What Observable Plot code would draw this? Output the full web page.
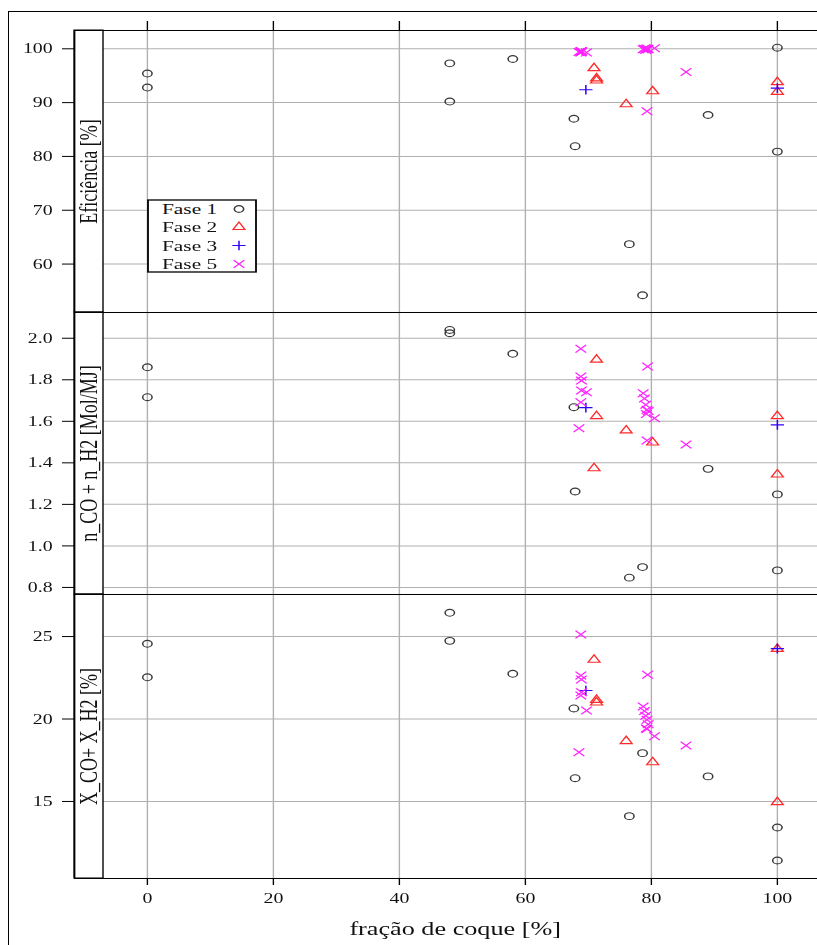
<!DOCTYPE html>
<html>
<head>
<meta charset="utf-8">
<script src="https://cdn.jsdelivr.net/npm/d3@7"></script>
<script src="https://cdn.jsdelivr.net/npm/@observablehq/plot@0.6"></script>
<style>
  html, body { margin: 0; padding: 0; background: #fff; overflow: hidden; }
  #page { position: relative; width: 817px; height: 945px; overflow: hidden; background: #fff; }
  #outer { position: absolute; left: 8px; top: 11px; width: 900px; height: 1000px; border: 1px solid #000; box-sizing: border-box; }
  #wrap { position: absolute; left: 0; top: 0; height: 945px; transform-origin: 0 0; }
  #wrap svg { position: absolute; left: 0; top: 0; max-width: none; }
</style>
</head>
<body>
<div id="page">
  <div id="outer"></div>
  <div id="wrap"></div>
</div>
<script>
// ---------- data ----------
const xTicks = [0, 20, 40, 60, 80, 100];
const xTitle = "fração de coque [%]";
const phaseNames = ["Fase 1", "Fase 2", "Fase 3", "Fase 5"];

const fase1X   = [0, 0, 48, 48, 58, 67.7, 67.9, 76.5, 78.6, 89, 100, 100];
const fase1Ef  = [95.4, 92.8, 97.3, 90.2, 98.1, 87.0, 81.9, 63.7, 54.2, 87.7, 100.2, 80.9];
const fase1Mol = [1.86, 1.716, 2.040, 2.024, 1.925, 1.668, 1.262, 0.847, 0.898, 1.371, 1.248, 0.882];
const fase1Xco = [24.56, 22.53, 26.44, 24.74, 22.74, 20.64, 16.41, 14.11, 17.93, 16.52, 13.42, 11.42];

const fase2X   = [70.9, 71.3, 71.3, 76.0, 80.2, 100, 100];
const fase2Ef  = [96.4, 94.5, 94.1, 89.7, 92.1, 93.8, 92.0];
const fase2Mol = [1.374, 1.897, 1.625, 1.556, 1.498, 1.625, 1.344];
const fase2Xco = [23.59, 21.16, 21.0, 18.66, 17.38, 24.25, 14.96];

const fase3X   = [69.6, 100];
const fase3Ef  = [92.4, 92.7];
const fase3Mol = [1.666, 1.583];
const fase3Xco = [21.73, 24.27];

const fase5X   = [68.8, 68.8, 68.9, 68.9, 69.7, 68.8, 68.5, 79.4, 78.7, 78.9, 79.1, 79.3, 79.5, 79.2, 80.5, 79.3, 85.5];
const fase5Ef  = [99.5, 99.3, 99.6, 99.4, 99.3, 99.5, 99.4, 100, 99.9, 100, 99.8, 100, 99.9, 100, 100.1, 88.4, 95.7];
const fase5Mol = [1.949, 1.816, 1.796, 1.748, 1.740, 1.692, 1.567, 1.864, 1.735, 1.71, 1.68, 1.656, 1.65, 1.635, 1.615, 1.508, 1.488];
const fase5Xco = [25.12, 22.64, 22.39, 21.62, 20.52, 21.42, 17.99, 22.68, 20.76, 20.48, 20.2, 19.96, 19.68, 19.43, 18.96, 19.4, 18.39];

const efTicks  = [60, 70, 80, 90, 100];
const molTicks = [0.8, 1.0, 1.2, 1.4, 1.6, 1.8, 2.0];
const xcoTicks = [15, 20, 25];

// ---------- layout / style ----------
const S = 1.38;                 // horizontal stretch of the original raster
const RIGHT = 835;              // panel right edge (outside the visible page)
const W = RIGHT / S;
const ML = 74 / S;
const stripW = 29 / S;
const H = 945;
const xDomain = [-11.54, (RIGHT - 146.7) / 6.3];
const FONT = "'Liberation Serif', 'Times New Roman', serif";

const styles = [
  {symbol: d3.symbolCircle,    stroke: "#383838", r: 3.4},
  {symbol: d3.symbolTriangle2, stroke: "#ff2a2a", r: 4.1},
  {symbol: d3.symbolPlus,      stroke: "#3300ff", r: 3.2},
  {symbol: d3.symbolTimes,     stroke: "#ff22ff", r: 3.6}
];

const zipXY = (xs, ys) => xs.map((x, i) => ({x, y: ys[i]}));
const phasesX = [fase1X, fase2X, fase3X, fase5X];

document.getElementById("wrap").style.width = W + "px";
document.getElementById("wrap").style.transform = `scaleX(${S})`;

function panel({top, bottom, domain, ticks, fmt, label, ys, first, last}) {
  const stripMark = () => {
    const g = d3.create("svg:g");
    g.append("rect")
      .attr("x", ML).attr("y", top)
      .attr("width", stripW).attr("height", bottom - top)
      .attr("fill", "#fff").attr("stroke", "#000").attr("stroke-width", 1);
    return g.node();
  };
  const legendMark = () => {
    const g = d3.create("svg:g");
    const bx = 148 / S, bw = (256 - 148) / S, by = 200, bh = 72;
    g.append("rect").attr("x", bx).attr("y", by).attr("width", bw).attr("height", bh)
      .attr("fill", "#fff").attr("stroke", "#000").attr("stroke-width", 1.3);
    const rowY = [209, 227, 245.5, 264];
    phaseNames.forEach((name, i) => {
      g.append("text").attr("x", 162 / S).attr("y", rowY[i]).attr("dy", "0.34em")
        .attr("text-anchor", "start")
        .attr("font-family", FONT).attr("font-size", 15.5).attr("fill", "#111").text(name);
      const st = styles[i];
      g.append("path")
        .attr("transform", `translate(${239 / S},${rowY[i]})`)
        .attr("d", d3.symbol(st.symbol, Math.PI * st.r * st.r)())
        .attr("fill", "none").attr("stroke", st.stroke).attr("stroke-width", 1.1);
    });
    return g.node();
  };

  const marks = [
    Plot.gridX(xTicks, {stroke: "#b0b0b0", strokeOpacity: 1, strokeWidth: 1}),
    Plot.gridY(ticks, {stroke: "#b0b0b0", strokeOpacity: 1, strokeWidth: 1}),
    stripMark,
    Plot.text([label], {frameAnchor: "left", dx: stripW / 2, rotate: -90, text: d => d,
      textAnchor: "middle", lineAnchor: "middle", fontSize: 18, fill: "#111"}),
    Plot.frame({stroke: "#000", strokeWidth: 1}),
    Plot.axisY(ticks, {anchor: "left", tickSize: 12 / S, tickPadding: 10 / S, tickFormat: fmt,
      label: null, fontSize: 14.4, stroke: "#000"}),
    ...ys.map((yArr, i) => Plot.dot(zipXY(phasesX[i], yArr), {
      x: "x", y: "y", symbol: styles[i].symbol, r: styles[i].r,
      stroke: styles[i].stroke, fill: "none", strokeWidth: 1.1
    }))
  ];
  if (first) {
    marks.push(Plot.axisX(xTicks, {anchor: "top", tickSize: 10, tickFormat: () => "", label: null, stroke: "#000"}));
    marks.push(legendMark);
  }
  if (last) {
    marks.push(Plot.axisX(xTicks, {anchor: "bottom", tickSize: 7, tickPadding: 7, label: null,
      fontSize: 14.4, stroke: "#000"}));
    marks.push(Plot.text([xTitle], {frameAnchor: "bottom", dy: 50, text: d => d,
      textAnchor: "middle", lineAnchor: "middle", fontSize: 19, fill: "#111"}));
  }

  return Plot.plot({
    width: W, height: H,
    marginTop: top, marginBottom: H - bottom, marginLeft: ML, marginRight: 0,
    style: {background: "none", overflow: "visible", fontFamily: FONT, fontSize: "14.4px", color: "#111", maxWidth: "none"},
    x: {domain: xDomain, axis: null},
    y: {domain, axis: null},
    marks
  });
}

const wrap = document.getElementById("wrap");
wrap.appendChild(panel({
  top: 30, bottom: 312, domain: [51.0, 103.4], ticks: efTicks, fmt: d => String(d),
  label: "Eficiência [%]", ys: [fase1Ef, fase2Ef, fase3Ef, fase5Ef], first: true
}));
wrap.appendChild(panel({
  top: 312, bottom: 594, domain: [0.766, 2.124], ticks: molTicks, fmt: d3.format(".1f"),
  label: "n_CO + n_H2 [Mol/MJ]", ys: [fase1Mol, fase2Mol, fase3Mol, fase5Mol]
}));
wrap.appendChild(panel({
  top: 594, bottom: 878, domain: [10.33, 27.55], ticks: xcoTicks, fmt: d => String(d),
  label: "X_CO+ X_H2 [%]", ys: [fase1Xco, fase2Xco, fase3Xco, fase5Xco], last: true
}));
</script>
</body>
</html>
